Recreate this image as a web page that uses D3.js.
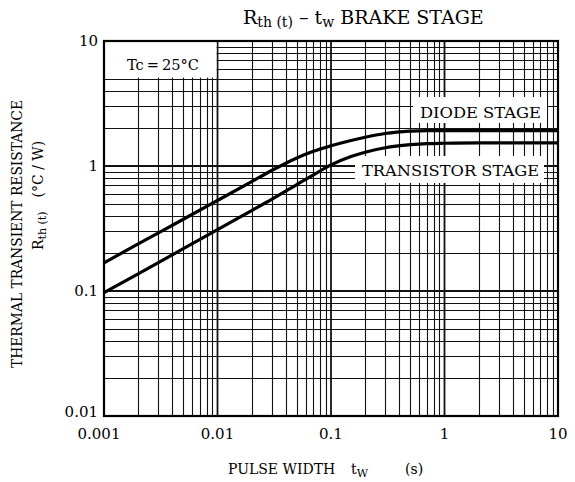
<!DOCTYPE html>
<html><head><meta charset="utf-8">
<script src="https://cdn.jsdelivr.net/npm/d3@7"></script>
<style>body{margin:0;background:#fff}svg{display:block}</style>
</head><body>
<svg id="c" width="575" height="482"></svg>
<script>
const pulseWidth = [0.001,0.002,0.005,0.01,0.02,0.03,0.05,0.07,0.1,0.15,0.2,0.3,0.5,0.7,1,2,5,10];
const diodeStage = [0.168,0.238,0.375,0.53,0.75,0.92,1.16,1.31,1.45,1.60,1.70,1.82,1.90,1.92,1.92,1.92,1.92,1.92];
const transistorStage = [0.097,0.137,0.218,0.31,0.44,0.54,0.71,0.85,1.02,1.19,1.29,1.40,1.48,1.51,1.52,1.53,1.53,1.53];
const xTicks = [0.001,0.01,0.1,1,10];
const xTickLabels = ["0.001","0.01","0.1","1","10"];
const yTicks = [0.01,0.1,1,10];
const yTickLabels = ["0.01","0.1","1","10"];

const svg = d3.select("#c");
const F = "'DejaVu Serif', 'Liberation Serif', serif";
const L = 104, R = 558, T = 41, B = 416;
const x = d3.scaleLog().domain([0.001,10]).range([L,R]);
const y = d3.scaleLog().domain([0.01,10]).range([B,T]);

// grid
const minorX = [], minorY = [];
for (let d = 0.001; d < 10; d *= 10) for (let k = 2; k <= 9; k++) minorX.push(+(d*k).toPrecision(3));
for (let d = 0.01; d < 10; d *= 10) for (let k = 2; k <= 9; k++) minorY.push(+(d*k).toPrecision(3));
const g = svg.append("g").attr("stroke","#111");
g.selectAll(".mx").data(minorX).join("line").attr("x1",d=>Math.round(x(d))+0.5).attr("x2",d=>Math.round(x(d))+0.5)
  .attr("y1",T).attr("y2",B).attr("stroke-width",1.1);
g.selectAll(".my").data(minorY).join("line").attr("y1",d=>Math.round(y(d))+0.5).attr("y2",d=>Math.round(y(d))+0.5)
  .attr("x1",L).attr("x2",R).attr("stroke-width",1.1);
g.selectAll(".Mx").data(xTicks).join("line").attr("x1",d=>x(d)).attr("x2",d=>x(d))
  .attr("y1",T).attr("y2",B).attr("stroke-width",1.8);
g.selectAll(".My").data(yTicks).join("line").attr("y1",d=>y(d)).attr("y2",d=>y(d))
  .attr("x1",L).attr("x2",R).attr("stroke-width",1.8);

// label boxes
svg.append("rect").attr("x",L+1).attr("y",T+1).attr("width",x(0.01)-L-2).attr("height",y(5)-T-2).attr("fill","#fff");
svg.append("rect").attr("x",413).attr("y",97).attr("width",134).attr("height",26).attr("fill","#fff");
svg.append("rect").attr("x",355).attr("y",156).attr("width",189).attr("height",27).attr("fill","#fff");

svg.append("text").attr("x",163).attr("y",70).attr("text-anchor","middle").attr("font-family",F).attr("font-size",15)
  .attr("textLength",72).attr("lengthAdjust","spacingAndGlyphs").text("Tc\u2009=\u200925\u00B0C");
svg.append("text").attr("x",420).attr("y",118).attr("font-family",F).attr("font-size",15)
  .attr("textLength",121).attr("lengthAdjust","spacingAndGlyphs").text("DIODE STAGE");
svg.append("text").attr("x",362).attr("y",176).attr("font-family",F).attr("font-size",15)
  .attr("textLength",177).attr("lengthAdjust","spacingAndGlyphs").text("TRANSISTOR STAGE");

// frame
svg.append("rect").attr("x",L).attr("y",T).attr("width",R-L).attr("height",B-T)
  .attr("fill","none").attr("stroke","#000").attr("stroke-width",2.2);

// curves
const line = d3.line().x(d=>x(d[0])).y(d=>y(d[1])).curve(d3.curveMonotoneX);
[diodeStage, transistorStage].forEach(s => {
  svg.append("path").datum(pulseWidth.map((t,i)=>[t,s[i]])).attr("d",line)
    .attr("fill","none").attr("stroke","#000").attr("stroke-width",3.2).attr("stroke-linejoin","round");
});

// tick labels
svg.selectAll(".xl").data(xTicks).join("text").attr("x",(d,i)=>x(d)-(i===0?5:0)).attr("y",439)
  .attr("text-anchor","middle").attr("font-family",F).attr("font-size",15).text((d,i)=>xTickLabels[i]);
svg.selectAll(".yl").data(yTicks).join("text").attr("x",98).attr("y",(d,i)=>y(d)+5-(i===0?4:0))
  .attr("text-anchor","end").attr("font-family",F).attr("font-size",15).text((d,i)=>yTickLabels[i]);

// title
const tt = svg.append("text").attr("x",243).attr("y",24).attr("font-family",F).attr("font-size",19);
tt.append("tspan").text("R");
tt.append("tspan").attr("font-size",14).attr("dy",3).text("th (t)");
tt.append("tspan").attr("dy",-3).text("  \u2013  t");
tt.append("tspan").attr("font-size",14).attr("dy",3).text("w");
tt.append("tspan").attr("dy",-3).text(" BRAKE STAGE");

// x axis title
const xt = svg.append("text").attr("x",228).attr("y",474).attr("font-family",F).attr("font-size",14);
xt.append("tspan").text("PULSE WIDTH");
xt.append("tspan").attr("x",351).text("t");
xt.append("tspan").attr("font-size",11).attr("dy",3).text("W");
xt.append("tspan").attr("x",405).attr("dy",-3).text("(s)");

// y axis title
svg.append("text").attr("transform","translate(22,234) rotate(-90)").attr("text-anchor","middle")
  .attr("font-family",F).attr("font-size",14).attr("textLength",268).attr("lengthAdjust","spacingAndGlyphs")
  .text("THERMAL TRANSIENT RESISTANCE");
const y2 = svg.append("text").attr("transform","translate(43,250) rotate(-90)").attr("font-family",F).attr("font-size",14);
y2.append("tspan").text("R");
y2.append("tspan").attr("font-size",11).attr("dy",3).text("th (t)");
y2.append("tspan").attr("dy",-3).attr("dx",14).text("(\u00B0C / W)");
</script>
</body></html>
